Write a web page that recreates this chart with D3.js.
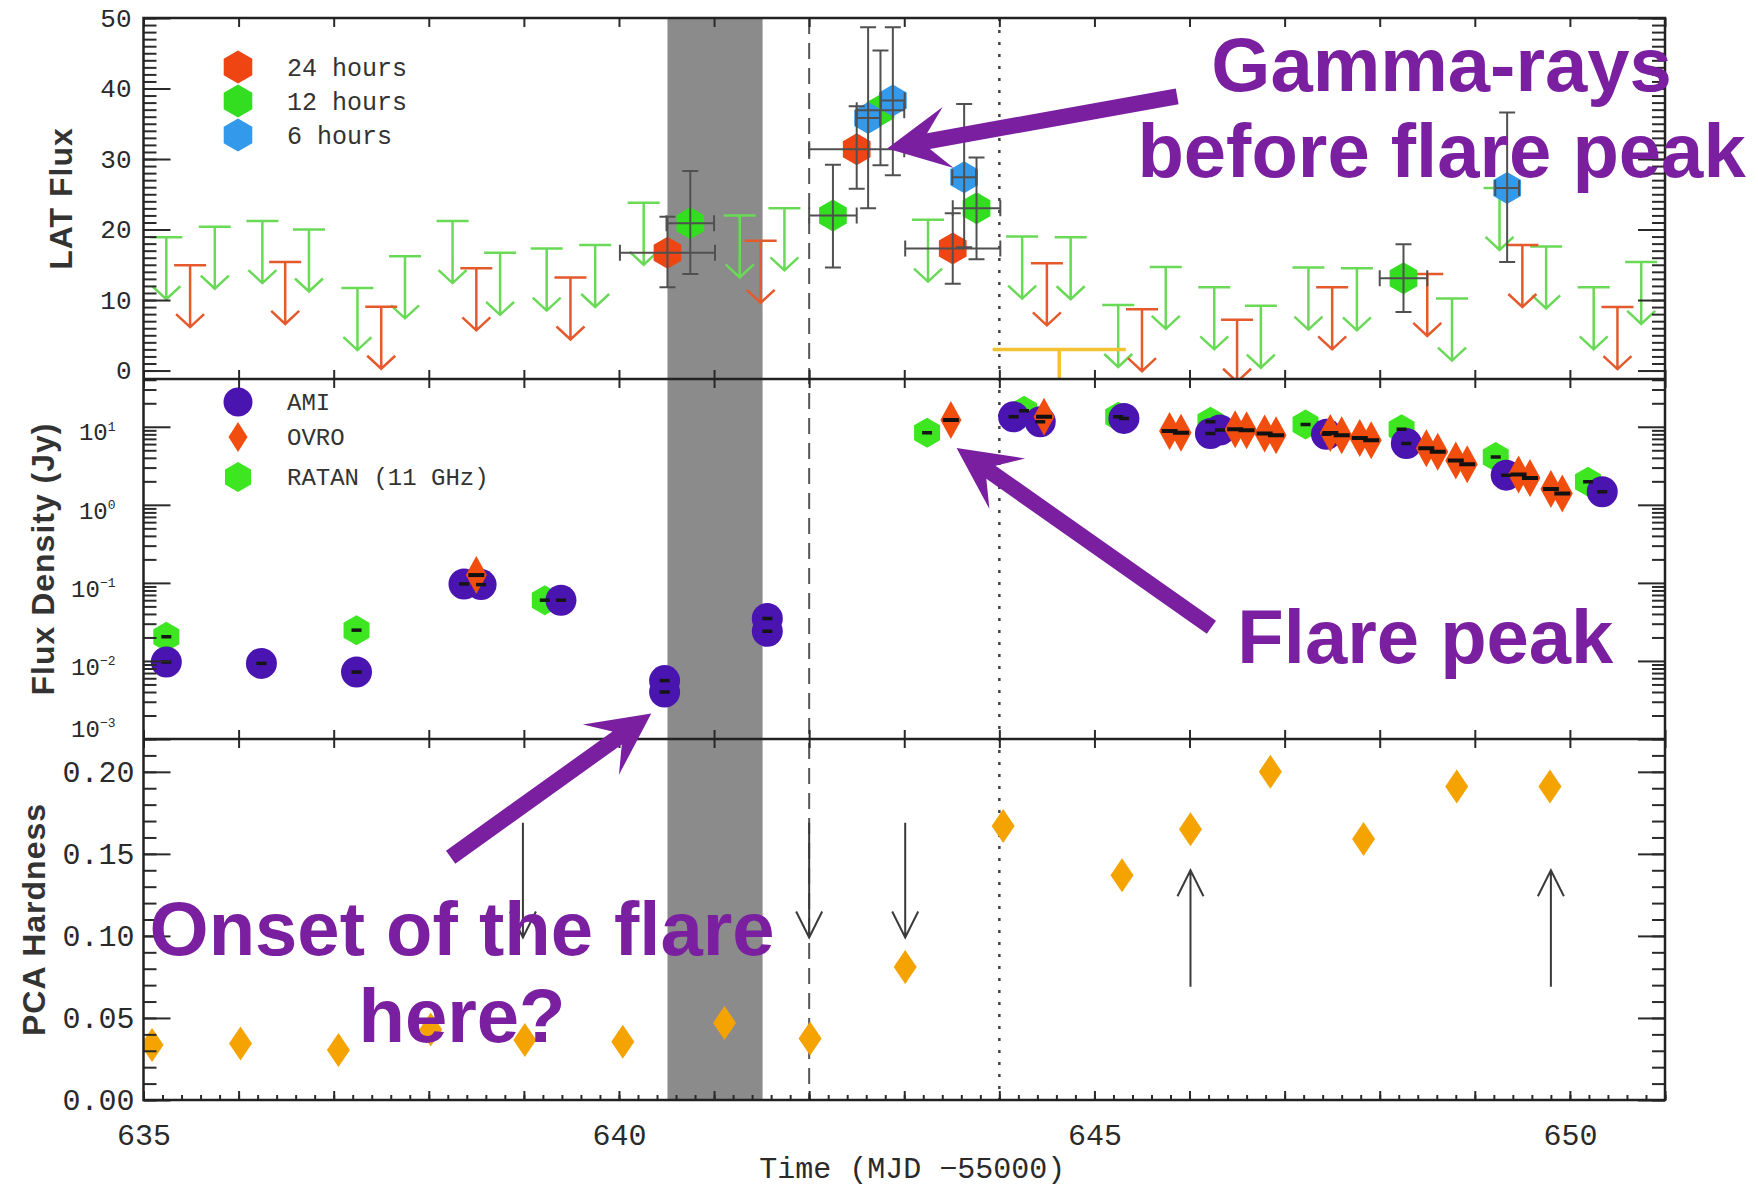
<!DOCTYPE html>
<html>
<head>
<meta charset="utf-8">
<script src="https://cdn.jsdelivr.net/npm/d3@7"></script>
<style>
  html, body { margin: 0; padding: 0; background: #fff; }
  svg { display: block; }
</style>
</head>
<body>
<svg id="chart" width="1758" height="1189"></svg>
<script>
// ---------------- data ----------------
// LAT flux upper limits [time, limit]
const lat24UL = [[635.49,14.95],[636.49,15.4],[637.50,9.05],[638.50,14.5],[639.49,13.2],[641.49,18.4],
  [644.50,15.2],[645.50,8.7],[646.50,7.2],[647.50,11.8],[648.50,13.7],[649.50,17.8],[650.50,9.0]];
const lat12UL = [[635.24,18.9],[635.75,20.4],[636.25,21.2],[636.74,20.0],[637.25,11.7],[637.75,16.2],
  [638.25,21.2],[638.75,16.7],[639.24,17.3],[639.75,17.8],[640.26,23.8],[641.27,22.0],[641.74,23.0],
  [643.25,21.4],[644.24,19.0],[644.75,18.9],[645.25,9.3],[645.75,14.7],[646.26,11.8],[646.75,9.2],
  [647.25,14.6],[647.76,14.5],[648.76,10.2],[649.26,25.9],[649.75,17.6],[650.25,11.8],[650.75,15.4]];
const latLongUL = [[644.63,3.0,0.70]];          // [time, limit, half bin]
// LAT detections [time, flux, low, high]
const lat24 = [[640.51,16.7,11.8,21.8],[642.50,31.4,25.8,37.5],[643.51,17.3,12.3,22.3]];
const lat12 = [[640.75,20.9,13.7,28.3],[642.25,22.0,14.6,29.2],[642.75,36.9,29.1,45.4],
  [643.76,23.0,15.8,30.2],[648.25,13.1,8.3,17.9]];
const lat6 = [[642.62,35.8,23.0,48.7],[642.88,38.3,27.7,48.7],[643.63,27.4,17.5,37.8],[649.34,25.9,15.4,36.6]];
const binHalf = {h24: 0.5, h12: 0.25, h6: 0.125};

// radio flux density (Jy) [time, flux]
const ami = [[635.24,0.0097],[636.24,0.0093],[637.24,0.0072],[638.37,0.097],[638.55,0.095],[639.39,0.060],
  [640.48,0.0056],[640.48,0.0040],[641.56,0.035],[641.56,0.024],[644.15,13.4],[644.43,11.6],[645.31,12.8],
  [646.22,8.2],[646.32,9.1],[647.44,8.0],[648.28,6.1],[649.33,2.4],[650.34,1.47]];
const ratan = [[635.24,0.0204],[637.24,0.0248],[639.22,0.060],[643.24,8.4],[644.26,16.0],[645.25,13.4],
  [646.22,11.6],[647.22,10.7],[648.23,9.3],[649.22,4.1],[650.19,1.97]];
const ovro = [[638.50,0.126],[643.49,12.2],[644.47,13.4],[645.79,8.8],[645.91,8.4],[646.48,9.3],[646.60,9.0],
  [646.79,8.2],[646.91,7.8],[647.48,8.3],[647.60,7.8],[647.79,7.2],[647.91,6.7],[648.49,5.3],[648.61,4.8],
  [648.80,3.7],[648.92,3.3],[649.46,2.45],[649.58,2.2],[649.80,1.6],[649.92,1.4]];

// PCA hardness [time, hardness]
const hardness = [[635.09,0.0335],[636.02,0.0345],[637.05,0.0304],[638.02,0.043],[639.01,0.0365],
  [640.04,0.0355],[641.11,0.047],[642.01,0.0375],[643.01,0.081],[644.04,0.167],[645.29,0.137],
  [646.01,0.165],[646.85,0.200],[647.83,0.159],[648.81,0.191],[649.79,0.191]];
// thin arrows in hardness panel [time, from, to]
const hardArrows = [[638.99,0.169,0.099],[642.00,0.169,0.099],[643.01,0.169,0.099],
  [646.01,0.069,0.140],[649.80,0.069,0.140]];

// flare interval markers
const flareBand = [640.51, 641.51];
const dashedT = 642.0;
const dottedT = 644.0;

// tick values
const xTicksLabel = [635, 640, 645, 650];
const latMajor = [0, 10, 20, 30, 40, 50];
const fluxMajor = [1e-3, 1e-2, 1e-1, 1, 10];
const hardMajor = [0, 0.05, 0.10, 0.15, 0.20];

// annotations [panel, time, value]
const notes = [
  {text: 'Gamma-rays', at: ['lat', 648.65, 39.6]},
  {text: 'before flare peak', at: ['lat', 648.65, 27.5]},
  {text: 'Flare peak', at: ['flux', 648.48, 0.0093]},
  {text: 'Onset of the flare', at: ['hard', 638.35, 0.0882]},
  {text: 'here?', at: ['hard', 638.35, 0.0355]}
];
const callouts = [
  {from: ['lat', 645.87, 38.9], to: ['lat', 642.82, 31.5]},
  {from: ['flux', 646.23, 0.027], to: ['flux', 643.55, 5.33]},
  {from: ['hard', 638.23, 0.148], to: ['flux', 640.34, 0.00212]}
];

// ---------------- layout ----------------
const svg = d3.select('#chart');
const left = 143.5, right = 1665;
const pTop = [18, 379], pMid = [379, 739], pBot = [739, 1100];
const mono = '"Liberation Mono", "DejaVu Sans Mono", monospace';
const purple = '#7a1fa0';

const x = d3.scaleLinear().domain([635, 651]).range([left, right]);
const yLat = d3.scaleLinear().domain([-1.2, 50]).range([pTop[1], pTop[0]]);
const yFlux = d3.scaleLog().domain([1e-3, Math.pow(10, 1.612)]).range([pMid[1], pMid[0]]);
const yHard = d3.scaleLinear().domain([0, 0.22]).range([pBot[1], pBot[0]]);
const yOf = {lat: yLat, flux: yFlux, hard: yHard};

svg.append('rect').attr('width', 1758).attr('height', 1189).attr('fill', '#fff');

const defs = svg.append('defs');
[['clipTop', pTop], ['clipMid', pMid], ['clipBot', pBot]].forEach(([id, p]) => {
  defs.append('clipPath').attr('id', id).append('rect')
    .attr('x', left).attr('y', p[0]).attr('width', right - left).attr('height', p[1] - p[0]);
});

const hex = r => 'M' + d3.range(6).map(i => {
  const a = Math.PI / 180 * (60 * i - 90);
  return [r * Math.cos(a), r * Math.sin(a)];
}).join('L') + 'Z';
const diamond = (hw, hh) => `M0,${-hh}L${hw},0L0,${hh}L${-hw},0Z`;

// band and vertical reference lines
svg.append('rect')
  .attr('x', x(flareBand[0])).attr('width', x(flareBand[1]) - x(flareBand[0]))
  .attr('y', pTop[0]).attr('height', pBot[1] - pTop[0])
  .attr('fill', '#8b8b8b');
svg.append('line').attr('x1', x(dashedT)).attr('x2', x(dashedT)).attr('y1', pTop[0]).attr('y2', pBot[1])
  .attr('stroke', '#555').attr('stroke-width', 2).attr('stroke-dasharray', '16,9');
svg.append('line').attr('x1', x(dottedT)).attr('x2', x(dottedT)).attr('y1', pTop[0]).attr('y2', pBot[1])
  .attr('stroke', '#444').attr('stroke-width', 2.5).attr('stroke-dasharray', '3,9');

// ---------------- top panel: LAT flux ----------------
const gTop = svg.append('g').attr('clip-path', 'url(#clipTop)');

const drawUL = (data, color) => {
  gTop.append('g').selectAll('path').data(data).join('path')
    .attr('transform', d => `translate(${x(d[0])},${yLat(d[1])})`)
    .attr('d', 'M-16,0H16M0,0V62M-14,49L0,62L14,49')
    .attr('fill', 'none').attr('stroke', color).attr('stroke-width', 2.5);
};
drawUL(lat12UL, '#6ad957');
drawUL(lat24UL, '#e45a2c');

gTop.append('g').selectAll('path').data(latLongUL).join('path')
  .attr('d', d => `M${x(d[0] - d[2])},${yLat(d[1])}H${x(d[0] + d[2])}M${x(d[0])},${yLat(d[1])}V${yLat(d[1]) + 45}`)
  .attr('fill', 'none').attr('stroke', '#f2c232').attr('stroke-width', 3.5);

const drawDet = (data, color) => {
  gTop.append('g').selectAll('path').data(data).join('path')
    .attr('transform', d => `translate(${x(d[0])},${yLat(d[1])})`)
    .attr('d', hex(16)).attr('fill', color);
};
drawDet(lat24, '#ee4512');
drawDet(lat12, '#33dd1f');
drawDet(lat6, '#3399ea');

const drawErr = (data, dt) => {
  gTop.append('g').selectAll('path').data(data).join('path')
    .attr('d', d => {
      const cx = x(d[0]), cy = yLat(d[1]), xl = x(d[0] - dt), xr = x(d[0] + dt);
      const lo = yLat(d[2]), hi = yLat(d[3]);
      return `M${xl},${cy}H${xr}M${xl},${cy - 8}V${cy + 8}M${xr},${cy - 8}V${cy + 8}` +
        `M${cx},${lo}V${hi}M${cx - 8},${lo}H${cx + 8}M${cx - 8},${hi}H${cx + 8}`;
    })
    .attr('fill', 'none').attr('stroke', '#505050').attr('stroke-width', 2);
};
drawErr(lat24, binHalf.h24);
drawErr(lat12, binHalf.h12);
drawErr(lat6, binHalf.h6);

// legend (top)
const legTop = [['24 hours', '#ee4512'], ['12 hours', '#33dd1f'], ['6 hours', '#3399ea']];
legTop.forEach(([label, color], i) => {
  const ly = 67 + i * 34;
  svg.append('path').attr('transform', `translate(238,${ly})`).attr('d', hex(16.5)).attr('fill', color);
  svg.append('text').attr('x', 287).attr('y', ly + 9).text(label)
    .attr('font-family', mono).attr('font-size', 25).attr('fill', '#333');
});

// ---------------- middle panel: radio flux ----------------
const gMid = svg.append('g').attr('clip-path', 'url(#clipMid)');
gMid.append('g').selectAll('path').data(ratan).join('path')
  .attr('transform', d => `translate(${x(d[0])},${yFlux(d[1])})`)
  .attr('d', hex(15)).attr('fill', '#3de620');
gMid.append('g').selectAll('circle').data(ami).join('circle')
  .attr('cx', d => x(d[0])).attr('cy', d => yFlux(d[1])).attr('r', 15.5)
  .attr('fill', '#4a14b0');
gMid.append('g').selectAll('path').data(ovro).join('path')
  .attr('transform', d => `translate(${x(d[0])},${yFlux(d[1])})`)
  .attr('d', diamond(10.5, 19)).attr('fill', '#f04d0e');
gMid.append('g').selectAll('line').data(ami.concat(ratan)).join('line')
  .attr('x1', d => x(d[0]) - 5).attr('x2', d => x(d[0]) + 5)
  .attr('y1', d => yFlux(d[1])).attr('y2', d => yFlux(d[1]))
  .attr('stroke', '#151515').attr('stroke-width', 3.5);
gMid.append('g').selectAll('line').data(ovro).join('line')
  .attr('x1', d => x(d[0]) - 8).attr('x2', d => x(d[0]) + 8)
  .attr('y1', d => yFlux(d[1])).attr('y2', d => yFlux(d[1]))
  .attr('stroke', '#111').attr('stroke-width', 4);

// legend (middle)
svg.append('circle').attr('cx', 238).attr('cy', 402).attr('r', 14.5).attr('fill', '#4a14b0');
svg.append('path').attr('transform', 'translate(238,437)').attr('d', diamond(9.5, 15)).attr('fill', '#f04d0e');
svg.append('path').attr('transform', 'translate(238,477)').attr('d', hex(15)).attr('fill', '#3de620');
[['AMI', 402], ['OVRO', 437], ['RATAN (11 GHz)', 477]].forEach(([label, ly]) => {
  svg.append('text').attr('x', 287).attr('y', ly + 8).text(label)
    .attr('font-family', mono).attr('font-size', 24).attr('fill', '#333');
});

// ---------------- bottom panel: PCA hardness ----------------
const gBot = svg.append('g').attr('clip-path', 'url(#clipBot)');
gBot.append('g').selectAll('path').data(hardness).join('path')
  .attr('transform', d => `translate(${x(d[0])},${yHard(d[1])})`)
  .attr('d', diamond(11.5, 17)).attr('fill', '#f5a300');
gBot.append('g').selectAll('path').data(hardArrows).join('path')
  .attr('d', d => {
    const cx = x(d[0]), y0 = yHard(d[1]), y1 = yHard(d[2]);
    const s = y1 > y0 ? -1 : 1;
    return `M${cx},${y0}V${y1}M${cx - 13},${y1 + s * 26}L${cx},${y1}L${cx + 13},${y1 + s * 26}`;
  })
  .attr('fill', 'none').attr('stroke', '#3a3a3a').attr('stroke-width', 2);

// ---------------- axes ----------------
const axisColor = '#2a2a2a';
const styleAxis = (g, size) => {
  g.select('.domain').remove();
  g.attr('color', axisColor).attr('font-family', mono).attr('font-size', size);
  g.selectAll('.tick line').attr('stroke-width', 2);
};

const yAxes = (scale, minors, majors, fmt, size, pad) => {
  [[d3.axisLeft, left], [d3.axisRight, right]].forEach(([ax, px]) => {
    svg.append('g').attr('transform', `translate(${px},0)`)
      .call(ax(scale).tickValues(minors).tickSize(-13).tickFormat(''))
      .call(g => styleAxis(g, size));
  });
  svg.append('g').attr('transform', `translate(${right},0)`)
    .call(d3.axisRight(scale).tickValues(majors).tickSize(-27).tickFormat(''))
    .call(g => styleAxis(g, size));
  return svg.append('g').attr('transform', `translate(${left},0)`)
    .call(d3.axisLeft(scale).tickValues(majors).tickSize(-27).tickPadding(pad).tickFormat(fmt))
    .call(g => styleAxis(g, size));
};

yAxes(yLat, d3.range(0, 51, 1), latMajor, d3.format('d'), 26, 12);
const fluxMinor = [];
d3.range(-3, 2).forEach(e => d3.range(2, 10).forEach(m => {
  const v = m * Math.pow(10, e);
  if (v < yFlux.domain()[1]) fluxMinor.push(v);
}));
const gFluxAx = yAxes(yFlux, fluxMinor, fluxMajor, () => '', 24, 28);
gFluxAx.selectAll('.tick text').attr('dy', d => d === 1e-3 ? '-0.1em' : '0.55em').each(function (d) {
  const t = d3.select(this);
  t.append('tspan').text('10');
  t.append('tspan').attr('dy', '-0.75em').attr('font-size', 13)
    .text(String(Math.round(Math.log10(d))).replace('-', '\u2212'));
});
yAxes(yHard, d3.range(0, 0.2201, 0.01), hardMajor, d3.format('.2f'), 30, 9);

// x ticks on every panel edge
[pTop, pMid, pBot].forEach(p => {
  svg.append('g').attr('transform', `translate(0,${p[0]})`)
    .call(d3.axisTop(x).tickValues(d3.range(635, 652)).tickSize(-9).tickFormat(''))
    .call(g => styleAxis(g, 30));
  svg.append('g').attr('transform', `translate(0,${p[1]})`)
    .call(d3.axisBottom(x).tickValues(d3.range(635, 652)).tickSize(-9).tickFormat(''))
    .call(g => styleAxis(g, 30));
});
svg.append('g').attr('transform', `translate(0,${pBot[1]})`)
  .call(d3.axisBottom(x).tickValues(d3.range(635, 651.01, 0.2)).tickSize(-5).tickFormat(''))
  .call(g => styleAxis(g, 30));
svg.append('g').attr('transform', `translate(0,${pBot[1]})`)
  .call(d3.axisBottom(x).tickValues(xTicksLabel).tickSize(0).tickPadding(24).tickFormat(d3.format('d')))
  .call(g => styleAxis(g, 30));

// frames
svg.append('rect').attr('x', left).attr('y', pTop[0]).attr('width', right - left).attr('height', pBot[1] - pTop[0])
  .attr('fill', 'none').attr('stroke', '#222').attr('stroke-width', 2.5);
[pMid[0], pBot[0]].forEach(yy => {
  svg.append('line').attr('x1', left).attr('x2', right).attr('y1', yy).attr('y2', yy)
    .attr('stroke', '#222').attr('stroke-width', 2.5);
});

// axis titles
const yTitles = [['LAT Flux', 61, (pTop[0] + pTop[1]) / 2], ['Flux Density (Jy)', 43, (pMid[0] + pMid[1]) / 2],
  ['PCA Hardness', 34, (pBot[0] + pBot[1]) / 2]];
yTitles.forEach(([label, tx, ty]) => {
  svg.append('text').attr('transform', `translate(${tx},${ty}) rotate(-90)`)
    .attr('text-anchor', 'middle').attr('dominant-baseline', 'central')
    .attr('font-family', '"Liberation Sans", Arial, sans-serif').attr('font-weight', 'bold')
    .attr('font-size', 32).attr('letter-spacing', 1).attr('fill', '#333').text(label);
});
svg.append('text').attr('x', (left + right) / 2 + 8).attr('y', 1178).attr('text-anchor', 'middle')
  .attr('font-family', mono).attr('font-size', 30).attr('fill', '#2a2a2a')
  .text('Time (MJD \u221255000)');

// ---------------- annotations ----------------
const pos = a => [x(a[1]), yOf[a[0]](a[2])];
const bigArrow = (p0, p1, shaft = 16, headLen = 62, headHalf = 31, notch = 42) => {
  const dx = p1[0] - p0[0], dy = p1[1] - p0[1], L = Math.hypot(dx, dy);
  const ux = dx / L, uy = dy / L, nx = -uy, ny = ux;
  const P = (a, b) => [p1[0] - ux * a + nx * b, p1[1] - uy * a + ny * b];
  return 'M' + [P(0, 0), P(headLen, headHalf), P(notch, shaft / 2), P(L, shaft / 2),
    P(L, -shaft / 2), P(notch, -shaft / 2), P(headLen, -headHalf)].join('L') + 'Z';
};
svg.append('g').selectAll('path').data(callouts).join('path')
  .attr('d', d => bigArrow(pos(d.from), pos(d.to)))
  .attr('fill', purple);
svg.append('g').selectAll('text').data(notes).join('text')
  .attr('x', d => pos(d.at)[0]).attr('y', d => pos(d.at)[1])
  .attr('text-anchor', 'middle')
  .attr('font-family', '"Liberation Sans", Arial, sans-serif').attr('font-weight', 'bold')
  .attr('font-size', 76).attr('fill', purple)
  .text(d => d.text);
</script>
</body>
</html>
